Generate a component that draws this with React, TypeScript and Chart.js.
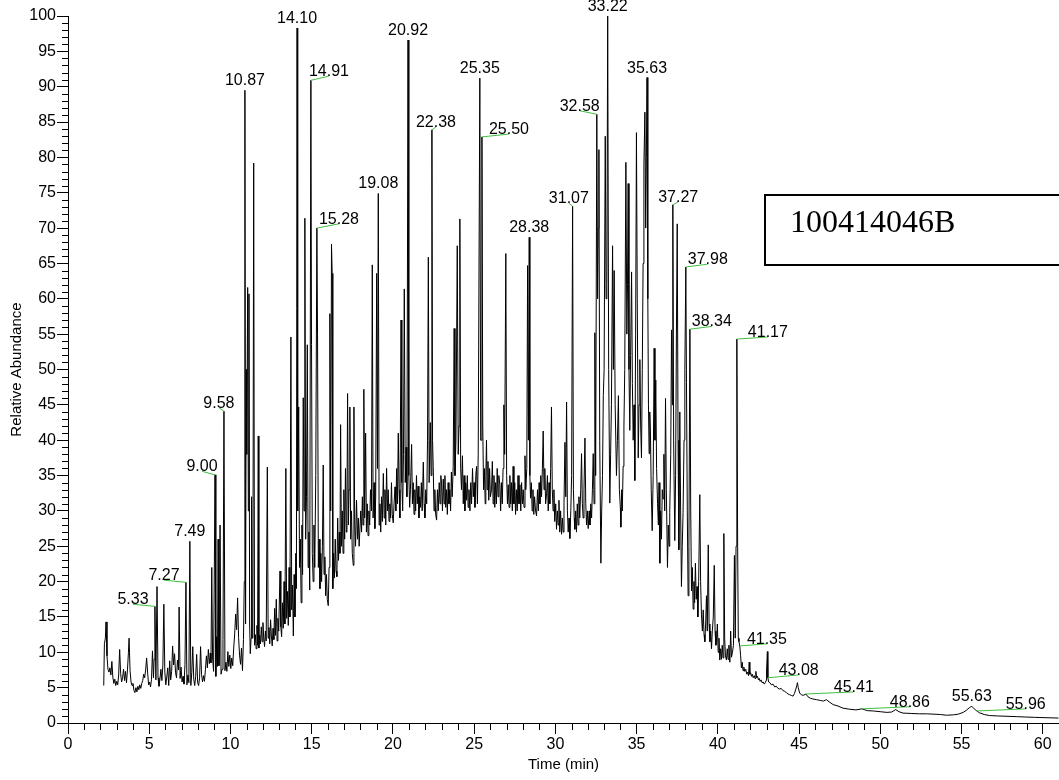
import React, { useEffect, useRef } from 'react';
import { Chart, registerables } from 'chart.js';

Chart.register(...registerables);

// Chromatogram trace, [time (min), relative abundance]
const early: [number, number][] = [
  [2.2,5.3],[2.24,11.2],[2.3,12],[2.34,14.3],[2.4,9.5],[2.46,7.6],[2.52,7.2],[2.58,7.8],[2.64,6.8],[2.7,8.7],[2.76,6.5],[2.82,5.6],[2.88,6.2],[2.94,5.3],[3.0,5.9],[3.06,5.4],[3.12,6.8],[3.18,10.4],[3.24,7],[3.3,5.8],[3.36,6.4],[3.42,7.6],[3.48,6],[3.54,7.3],[3.6,5.7],[3.66,7.5],[3.72,10],[3.76,12],[3.82,7.4],[3.88,5.8],[3.94,5.3],[4.0,5.6],[4.06,4.6],[4.12,4.3],[4.18,5],[4.24,4.4],[4.3,5.2],[4.36,4.7],[4.42,5.4],[4.48,4.9],[4.54,5.6],[4.6,6],[4.66,6.9],[4.72,6.4],[4.78,7.5],[4.84,9.2],[4.9,7.2],[4.96,5.4],[5.02,5.8],[5.08,5.1],[5.14,6.2],[5.2,10.2],[5.26,6.4],[5.3,9],[5.35,16.5],[5.41,6.1],[5.48,19.3],[5.54,6.4],[5.6,5.2],[5.66,6.2],[5.72,7.6],[5.78,6],[5.84,8.2],[5.9,16.8],[5.96,7.2],[6.02,5.4],[6.08,6.5],[6.14,7.8],[6.2,5.3],[6.26,8.8],[6.32,6.1],[6.38,7.3],[6.44,10.9],[6.5,8.2],[6.56,9.8],[6.62,7.1],[6.68,6.4],[6.74,8.9],[6.8,7.5],[6.84,16.4],[6.9,6.3],[6.96,7.9],[7.02,5.8],[7.08,6.6],[7.14,5.5],[7.2,8.3],[7.26,19.9],[7.32,5.4],[7.38,6.8],[7.44,5.7],[7.5,25.7],[7.56,5.3],[7.62,7.1],[7.68,10.8],[7.74,6.2],[7.8,5.3],[7.86,6.6],[7.92,9.7],[7.98,5.7],[8.04,5.3],[8.1,6.4],[8.16,10.8],[8.22,6.9],[8.28,5.8],[8.34,6.7],[8.4,5.9],[8.46,7.6],[8.52,9.5],[8.58,7.8],[8.64,10.4],[8.7,8.4],[8.76,9.9],[8.8,8.5],[8.85,22],[8.9,9.2],[8.96,7.3],[9.05,35.1],[9.1,6.6],[9.15,12.2],[9.2,8],[9.24,26],[9.29,8.1],[9.32,9.4],[9.36,28],[9.42,6.9],[9.48,7.6],[9.54,11.8],[9.6,44.1],[9.66,7.4],[9.72,8.6],[9.78,7.3],[9.84,10.1],[9.9,8],[9.96,9.6],[10.02,7.7],[10.08,9.2],[10.14,8.1],[10.2,10.6],[10.26,12.6],[10.32,15.4],[10.38,13.2],[10.44,17.7],[10.5,12.1],[10.56,9.6],[10.62,8.3],[10.68,10.6],[10.74,7.4],[10.8,11.8]
];

const rise: [number, number][] = [
  [10.85,20],[10.89,89.5],[10.93,14],[10.97,50],[11.0,38],[11.06,61.6],[11.1,30],[11.14,60.7],[11.18,14],[11.22,9.8],[11.27,12],[11.3,32],[11.34,12],[11.38,16],[11.43,79.2],[11.48,11],[11.53,12.5],[11.58,10.5],[11.63,13.8],[11.67,11],[11.71,40.6],[11.75,10.6],[11.8,12.4],[11.85,11.2],[11.9,13.6],[11.95,11.5],[12.0,14.2],[12.05,12],[12.1,10.8],[12.15,13],[12.2,11.6],[12.27,36.2],[12.32,12],[12.37,13.5],[12.42,11.2],[12.47,14.6],[12.52,12.3],[12.57,10.9],[12.62,13.4],[12.67,11.8],[12.72,16.2],[12.77,12.4],[12.82,17.5],[12.87,11.6],[12.92,14.8],[12.97,13],[13.05,21.5],[13.1,13.6],[13.15,12.2],[13.2,17],[13.25,13.4],[13.3,20],[13.35,14],[13.41,36],[13.46,14.8],[13.51,18.6],[13.56,13.8],[13.61,22],[13.66,15],[13.72,54.6],[13.77,16],[13.82,19.5],[13.87,12.3],[13.92,21],[13.97,15],[14.02,24],[14.06,19],[14.1,98.3],[14.14,30],[14.2,44.7],[14.25,22],[14.3,26],[14.35,17],[14.4,28],[14.44,21],[14.48,46],[14.53,30],[14.58,71.4],[14.63,26],[14.68,32],[14.73,53.5],[14.78,22],[14.83,27],[14.88,18.8],[14.95,90.9],[14.99,53.5],[15.04,24],[15.09,20],[15.14,28],[15.19,22],[15.25,35],[15.32,70],[15.36,55],[15.41,22],[15.46,26],[15.51,19],[15.56,24],[15.61,20],[15.66,25],[15.71,36.5],[15.76,21],[15.81,23.5],[15.86,18],[15.91,21],[15.96,17.5],[16.02,16.6],[16.07,22],[16.12,57.9],[16.17,30],[16.22,67.7],[16.26,63.6],[16.3,19],[16.35,24],[16.4,20.5],[16.45,26],[16.5,21.5],[16.55,20.7],[16.6,29],[16.65,23],[16.7,27],[16.74,24],[16.78,42.2],[16.83,25],[16.88,30],[16.93,24],[16.98,33],[17.03,26],[17.08,36],[17.13,27],[17.17,30],[17.21,46.6],[17.26,28],[17.3,33],[17.35,44.7],[17.4,26],[17.45,30],[17.5,24],[17.56,22.3],[17.6,44.7],[17.65,28],[17.7,25],[17.76,31.5],[17.82,26],[17.87,29],[17.92,25],[17.97,25],[18.02,30],[18.07,27],[18.12,32],[18.16,28],[18.21,47.2],[18.26,29],[18.32,41],[18.37,27],[18.42,31],[18.47,26.5],[18.52,30],[18.57,28],[18.62,33],[18.68,30],[18.73,64.8],[18.78,29],[18.84,34],[18.89,27.5],[18.94,32],[19.0,63.6],[19.05,36],[19.1,74.9],[19.15,28],[19.2,31],[19.25,27],[19.3,32],[19.35,28.5],[19.41,35.3],[19.46,29],[19.51,33],[19.56,28],[19.61,36],[19.66,30],[19.71,33],[19.76,28.5],[19.81,31],[19.86,29],[19.91,34],[19.96,29.5],[20.02,28.3],[20.07,31],[20.13,33.4],[20.18,30],[20.23,36],[20.28,31],[20.33,41],[20.38,33],[20.43,29],[20.5,57],[20.55,34],[20.6,30],[20.65,38],[20.7,61.4],[20.76,34],[20.81,39],[20.86,32],[20.93,96.6]
];

const plateau: [number, number][] = [
  [20.98,35],[21.03,30.5],[21.08,33],[21.15,39.4],[21.2,31],[21.25,34],[21.3,29.5],[21.35,33],[21.4,30],[21.45,35],[21.5,31],[21.55,33.5],[21.6,29],[21.65,32],[21.7,30.5],[21.75,34],[21.8,30],[21.87,36.9],[21.92,31],[21.97,29],[22.02,33],[22.08,31],[22.13,40],[22.18,65.9],[22.23,34],[22.3,42.5],[22.35,35],[22.4,83.9],[22.44,40],[22.48,36.3],[22.53,30],[22.58,33],[22.63,29.5],[22.69,28.7],[22.74,33],[22.79,30],[22.85,34],[22.9,31],[22.95,35],[23.0,33.8],[23.05,30],[23.1,34.5],[23.15,31],[23.2,35],[23.25,30.5],[23.3,33],[23.35,29.5],[23.4,34],[23.45,31],[23.5,33],[23.55,30],[23.6,35.5],[23.65,32],[23.71,36.3],[23.77,55.8],[23.82,35],[23.88,40],[23.96,67.5],[24.02,38],[24.07,42],[24.12,71.3],[24.17,36],[24.22,33],[24.28,37.8],[24.33,31],[24.38,35],[24.43,30],[24.48,34],[24.53,31.5],[24.58,35],[24.63,30.5],[24.68,33],[24.74,30],[24.79,34],[24.84,31],[24.9,36],[24.95,32],[25.0,34],[25.05,30.5],[25.1,35],[25.15,36.3],[25.2,31],[25.25,38],[25.35,91.2],[25.4,40],[25.43,40],[25.48,82.9],[25.53,42],[25.58,33],[25.63,36],[25.68,31],[25.72,35],[25.76,40],[25.8,33],[25.85,37],[25.9,31.5],[25.95,36],[26.0,32],[26.07,33],[26.12,37],[26.17,31],[26.22,35],[26.27,30.5],[26.32,34],[26.37,31],[26.42,36],[26.47,32],[26.52,35],[26.58,33.7],[26.63,30],[26.68,34],[26.73,31],[26.78,36],[26.83,45],[26.88,38],[26.95,66.4],[27.0,35],[27.05,31],[27.1,33.7],[27.15,30.5],[27.2,35],[27.25,31],[27.3,34],[27.35,30],[27.4,36.3],[27.45,31],[27.5,34],[27.55,29.5],[27.6,33],[27.65,30],[27.7,35],[27.76,31],[27.82,33.7],[27.87,30],[27.92,34],[27.97,31],[28.02,33],[28.07,30.5],[28.13,37.8],[28.18,33],[28.24,36],[28.29,64.7],[28.34,40],[28.39,68.7],[28.43,35],[28.47,31.8],[28.52,34],[28.57,30],[28.62,33],[28.67,29.5],[28.72,32],[28.78,30],[28.84,29.3],[28.9,33],[28.95,30],[29.0,34],[29.05,31],[29.1,35],[29.15,32],[29.2,36],[29.25,41.3],[29.3,33],[29.35,36],[29.4,31],[29.46,32.4],[29.51,35],[29.56,30],[29.61,34],[29.66,31],[29.71,36],[29.76,44.7],[29.81,33],[29.86,30],[29.91,33],[29.96,28.5],[30.02,31],[30.07,27.4],[30.12,30],[30.17,28],[30.22,31.5],[30.27,27],[30.32,30],[30.38,26.7],[30.43,29],[30.48,27],[30.53,31],[30.59,39.7],[30.64,32],[30.69,45.4],[30.74,30],[30.79,27],[30.84,29],[30.89,26.1],[30.95,30],[31.0,35],[31.06,73.1],[31.11,33],[31.16,29],[31.2,27.4],[31.25,30],[31.3,27],[31.35,31],[31.4,28],[31.45,32],[31.5,29],[31.56,33],[31.61,38.1],[31.66,31],[31.71,29],[31.76,33],[31.82,40.3],[31.87,31],[31.92,28],[31.97,30],[32.02,27.5],[32.08,30],[32.13,28],[32.18,31],[32.23,29],[32.28,33],[32.33,38.1],[32.38,31],[32.43,55.2],[32.48,35],[32.55,86.1],[32.6,60],[32.64,70],[32.68,81.1],[32.73,40],[32.8,22.6],[32.85,30],[32.9,35],[32.95,46.3],[33.0,50],[33.07,83],[33.12,60],[33.17,62],[33.22,100],[33.28,50],[33.35,31.1],[33.4,38],[33.45,45],[33.52,67.5],[33.57,50],[33.62,64],[33.68,45],[33.76,35],[33.82,40],[33.88,46.3],[33.94,33],[34.0,30.4],[34.03,27.7],[34.08,33],[34.12,30],[34.17,36.3],[34.22,42],[34.27,50],[34.34,79.3],[34.4,55],[34.44,62],[34.48,76.3]
];

const cluster: [number, number][] = [
  [34.53,50],[34.58,41.4],[34.63,52],[34.69,63.8],[34.74,48],[34.79,40],[34.84,45],[34.89,34.3],[34.94,55],[34.99,83.5],[35.04,60],[35.1,37.5],[35.15,45],[35.2,51.4],[35.25,42],[35.3,37.5],[35.35,50],[35.4,65],[35.45,78.9],[35.51,86.4],[35.56,70],[35.6,80],[35.64,91.3],[35.69,60],[35.73,45],[35.77,38.1],[35.81,44],[35.85,41.4],[35.9,33],[35.96,27.2],[36.02,35],[36.08,53],[36.13,40],[36.18,48.5],[36.23,36],[36.29,31],[36.34,28],[36.38,34],[36.43,22.6],[36.48,30],[36.53,26],[36.58,33],[36.63,31.7],[36.68,38],[36.73,30],[36.78,45.9],[36.83,33],[36.9,22],[36.95,28],[37.0,25],[37.04,29.8],[37.1,38],[37.15,55.6],[37.2,45],[37.23,73.3],[37.28,40],[37.35,25.8],[37.4,35],[37.45,55],[37.5,70.6],[37.55,40],[37.6,24.5],[37.66,44],[37.71,30],[37.76,19.3],[37.81,25],[37.86,29.8],[37.92,40],[37.97,50],[38.03,64.5],[38.07,48.2],[38.12,30],[38.17,18],[38.22,25],[38.28,55.7],[38.33,30],[38.38,18.7],[38.43,22],[38.48,16.1],[38.53,20],[38.57,17],[38.62,22.6],[38.67,17.5],[38.72,19.3],[38.77,15],[38.82,20],[38.89,32.3],[38.94,20],[38.99,15.4],[39.05,13],[39.1,16],[39.15,12.5],[39.2,11.5],[39.25,14],[39.3,18],[39.35,13],[39.41,25.2],[39.46,14],[39.51,11.5],[39.56,13],[39.61,10.5],[39.66,13],[39.72,15],[39.78,22.3],[39.83,13],[39.88,11],[39.92,11.5],[39.97,14],[40.02,10],[40.07,12],[40.12,8.9],[40.17,10.5],[40.22,9],[40.27,11],[40.32,9.2],[40.37,26.8],[40.42,12],[40.47,9.5],[40.53,8.9],[40.58,10.5],[40.63,9],[40.68,11],[40.74,8.6],[40.79,13],[40.84,9.3],[40.9,10],[40.96,11],[41.02,23.7],[41.07,12],[41.12,25],[41.17,54.3],[41.22,25],[41.26,12],[41.3,11.5]
];

const tail: [number, number][] = [
  [41.35,10.9],[41.4,9.6],[41.45,7.8],[41.5,8.6],[41.55,7.4],[41.6,7.9],[41.66,7.3],[41.72,7.6],[41.78,6.9],[41.84,7.2],[41.89,6.7],[41.93,8.6],[41.97,6.9],[42.02,7.1],[42.07,6.6],[42.12,6.9],[42.18,6.4],[42.24,6.7],[42.29,6.3],[42.34,7.3],[42.39,6.4],[42.44,6.6],[42.5,6.1],[42.55,6.3],[42.6,5.9],[42.66,6.1],[42.72,5.7],[42.79,5.8],[42.86,5.5],[42.92,5.7],[42.97,6],[43.0,7.5],[43.05,10.1],[43.08,6.4],[43.13,5.8],[43.2,5.7],[43.3,5.4],[43.4,5.5],[43.5,5.1],[43.6,5.2],[43.7,4.9],[43.81,4.8],[43.9,4.9],[44.0,4.6],[44.1,4.5],[44.22,4.3],[44.32,4.1],[44.42,4.0],[44.52,3.9],[44.63,3.8],[44.72,4.2],[44.8,4.8],[44.86,5.3],[44.9,5.7],[44.95,5.0],[45.04,4.2],[45.15,4.0],[45.25,3.9],[45.42,4.1],[45.55,3.7],[45.7,3.5],[45.85,3.4],[46.07,3.3],[46.3,3.2],[46.5,3.1],[46.68,3.3],[46.85,3.0],[47.1,2.6],[47.4,2.4],[47.7,2.1],[48.1,1.95],[48.5,1.85],[48.86,2.0],[49.2,1.75],[49.57,1.7],[50.0,1.6],[50.4,1.5],[50.7,1.55],[50.95,1.9],[51.15,1.6],[51.4,1.4],[51.9,1.35],[52.4,1.3],[52.84,1.3],[53.3,1.25],[53.7,1.2],[54.07,1.1],[54.5,1.15],[54.8,1.25],[55.1,1.5],[55.3,1.8],[55.5,2.2],[55.63,2.35],[55.75,2.1],[55.85,1.85],[55.94,1.7],[56.1,1.45],[56.4,1.2],[56.73,1.05],[57.2,1.0],[57.8,0.95],[58.37,0.9],[58.9,0.85],[59.5,0.8],[60.2,0.75],[60.97,0.7]
];

// Peak annotations
const labelTexts = ['5.33','7.27','7.49','9.00','9.58','10.87','14.10','14.91','15.28','19.08','20.92','22.38','25.35','25.50','28.38','31.07','32.58','33.22','35.63','37.27','37.98','38.34','41.17','41.35','43.08','45.41','48.86','55.63','55.96'];
const labelPeakT = [5.35,7.26,7.5,9.05,9.6,10.89,14.1,14.95,15.32,19.1,20.93,22.4,25.35,25.48,28.39,31.06,32.55,33.22,35.64,37.23,38.03,38.28,41.17,41.35,43.08,45.42,48.86,55.63,55.94];
const labelPeakV = [16.5,19.9,25.7,35.1,44.1,89.5,98.3,90.9,70,74.9,96.6,83.9,91.2,82.9,68.7,73.1,86.1,100,91.3,73.3,64.5,55.7,54.3,10.9,6.4,4.1,2.0,2.35,1.7];
const labelAnchorT: (number | null)[] = [4.0,5.91,null,8.25,9.29,null,null,16.06,16.68,null,null,22.65,null,27.14,null,30.83,31.5,null,null,37.56,39.38,39.63,43.08,43.02,44.98,48.37,51.82,null,58.95];
const labelAnchorV: (number | null)[] = [16.8,20.2,null,35.6,44.6,null,null,91.5,70.6,null,null,84.3,null,83.3,null,73.5,86.6,null,null,73.7,64.9,56.1,54.6,11.2,6.8,4.4,2.3,null,2.0];

const xTickValues = [0, 5, 10, 15, 20, 25, 30, 35, 40, 45, 50, 55, 60];
const sampleName = '100414046B';
const xMin = 0, xMax = 61, yMin = 0, yMax = 100;

const SANS = '"Liberation Sans", Arial, sans-serif';

const peakLabelPlugin = {
  id: 'peakLabels',
  afterDatasetsDraw(chart: any) {
    const { ctx, scales } = chart;
    const x = scales.x, y = scales.y;
    ctx.save();
    ctx.font = `16px ${SANS}`;
    ctx.textAlign = 'center';
    ctx.textBaseline = 'alphabetic';
    labelTexts.forEach((txt, i) => {
      const px = x.getPixelForValue(labelPeakT[i]);
      const py = y.getPixelForValue(labelPeakV[i]);
      const at = labelAnchorT[i];
      const av = labelAnchorV[i];
      if (at != null && av != null) {
        const ax = x.getPixelForValue(at);
        const ay = y.getPixelForValue(av);
        ctx.strokeStyle = '#3fbf3f';
        ctx.lineWidth = 1;
        ctx.beginPath();
        ctx.moveTo(px, py);
        ctx.lineTo(ax, ay);
        ctx.stroke();
        ctx.fillStyle = '#000';
        ctx.fillText(txt, ax, ay);
      } else {
        ctx.fillStyle = '#000';
        ctx.fillText(txt, px, py - 5);
      }
    });
    ctx.restore();
  },
};

const minorTickPlugin = {
  id: 'minorTicks',
  afterDraw(chart: any) {
    const { ctx, scales, chartArea } = chart;
    const x = scales.x, y = scales.y;
    ctx.save();
    ctx.strokeStyle = '#000';
    ctx.lineWidth = 1;
    ctx.beginPath();
    for (let t = xMin; t <= xMax; t++) {
      if (t % 5 === 0) continue;
      const px = Math.round(x.getPixelForValue(t)) + 0.5;
      ctx.moveTo(px, chartArea.bottom);
      ctx.lineTo(px, chartArea.bottom + 7);
    }
    for (let v = yMin; v <= yMax; v++) {
      if (v % 5 === 0) continue;
      const py = Math.round(y.getPixelForValue(v)) + 0.5;
      ctx.moveTo(chartArea.left - 6, py);
      ctx.lineTo(chartArea.left, py);
    }
    ctx.stroke();

    // sample name box
    ctx.lineWidth = 2;
    ctx.strokeRect(765, 195, 400, 70);
    ctx.fillStyle = '#000';
    ctx.font = '32px "Liberation Serif", "Times New Roman", serif';
    ctx.textAlign = 'left';
    ctx.textBaseline = 'alphabetic';
    ctx.fillText(sampleName, 790, 232);
    ctx.restore();
  },
};

export default function App() {
  const ref = useRef<HTMLCanvasElement>(null);
  useEffect(() => {
    if (!ref.current) return;
    const trace = [...early, ...rise, ...plateau, ...cluster, ...tail].map(([t, v]) => ({ x: t, y: v }));
    const chart = new Chart(ref.current, {
      type: 'line',
      data: {
        datasets: [
          {
            data: trace,
            borderColor: '#000',
            borderWidth: 1,
            pointRadius: 0,
            tension: 0,
            fill: false,
          },
        ],
      },
      options: {
        animation: false,
        responsive: false,
        devicePixelRatio: 1,
        events: [],
        layout: { padding: { top: 16, right: 0, left: 0, bottom: 0 } },
        plugins: { legend: { display: false }, tooltip: { enabled: false }, title: { display: false } },
        scales: {
          x: {
            type: 'linear',
            min: xMin,
            max: xMax,
            afterFit: (s: any) => { s.height = 57; },
            afterBuildTicks: (s: any) => { s.ticks = xTickValues.map((v) => ({ value: v })); },
            ticks: { stepSize: 5, autoSkip: false, maxRotation: 0, color: '#000', font: { size: 16, family: SANS }, padding: 1 },
            grid: { drawOnChartArea: false, drawTicks: true, tickLength: 11, color: '#000' },
            border: { display: true, color: '#000', width: 1 },
            title: { display: true, text: 'Time (min)', color: '#000', font: { size: 15, family: SANS }, padding: { top: 0, bottom: 6 } },
          },
          y: {
            type: 'linear',
            min: yMin,
            max: yMax,
            afterFit: (s: any) => { s.width = 68; },
            ticks: { stepSize: 5, autoSkip: false, color: '#000', font: { size: 16, family: SANS }, padding: 1 },
            grid: { drawOnChartArea: false, drawTicks: true, tickLength: 11, color: '#000' },
            border: { display: true, color: '#000', width: 1 },
            title: { display: true, text: 'Relative Abundance', color: '#000', font: { size: 15, family: SANS }, padding: { top: 8, bottom: 0 } },
          },
        },
      },
      plugins: [peakLabelPlugin, minorTickPlugin],
    });
    return () => chart.destroy();
  }, []);
  return (
    <div style={{ position: 'absolute', left: 0, top: 0, width: 1059, height: 780, background: '#fff' }}>
      <canvas ref={ref} width={1059} height={780} />
    </div>
  );
}
